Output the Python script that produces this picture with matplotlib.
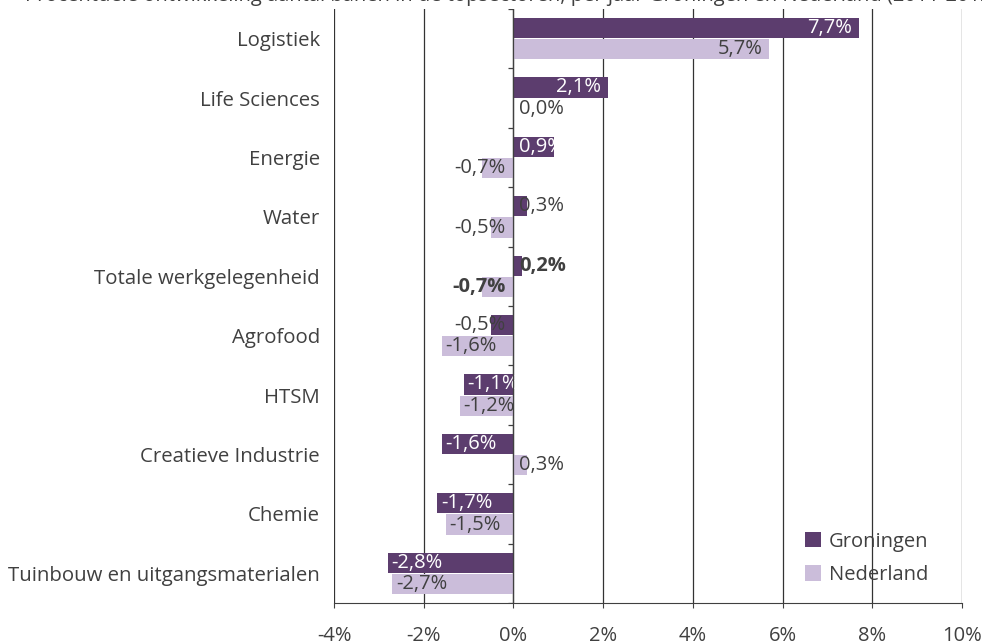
import matplotlib
matplotlib.use("Agg")
import matplotlib.pyplot as plt
import numpy as np

plt.rcParams['font.family'] = ['Open Sans', 'DejaVu Sans']

# data
sectors = ['Logistiek', 'Life Sciences', 'Energie', 'Water', 'Totale werkgelegenheid',
           'Agrofood', 'HTSM', 'Creatieve Industrie', 'Chemie',
           'Tuinbouw en uitgangsmaterialen']
groningen = [7.7, 2.1, 0.9, 0.3, 0.2, -0.5, -1.1, -1.6, -1.7, -2.8]
nederland = [5.7, 0.0, -0.7, -0.5, -0.7, -1.6, -1.2, 0.3, -1.5, -2.7]
bold_sector = 'Totale werkgelegenheid'
xticks = [-4, -2, 0, 2, 4, 6, 8, 10]
title = ('Procentuele ontwikkeling aantal banen in de topsectoren, per jaar '
         'Groningen en Nederland (2011-2012)')

C_GRO = '#5C3D6E'
C_NED = '#CBBDDA'
C_TXT = '#404040'
FS = 14.5


def fmt(v):
    return f"{v:.1f}".replace('.', ',') + '%'


def put_label(ax, y, v, color, weight):
    # Excel style "inside end", pushed out of the bar when it is too short
    if v >= 1.1:
        x, ha = v - 0.15, 'right'
    elif v >= 0:
        x, ha = 0.12, 'left'
    elif v <= -1.1:
        x, ha = v + 0.08, 'left'
    else:
        x, ha = -0.18, 'right'
    ax.text(x, y, fmt(v), ha=ha, va='center', fontsize=FS, color=color,
            fontweight=weight)


fig = plt.figure(figsize=(9.82, 6.44), dpi=100)
ax = fig.add_axes([334 / 982, 1 - 603 / 644, 628 / 982, 594 / 644])

y = np.arange(len(sectors))
h = 0.34
off = 0.18
ax.barh(y - off, groningen, height=h, color=C_GRO, label='Groningen', zorder=3)
ax.barh(y + off, nederland, height=h, color=C_NED, label='Nederland', zorder=3)

for i, s in enumerate(sectors):
    w = 'bold' if s == bold_sector else 'normal'
    g = groningen[i]
    put_label(ax, i - off, g, 'white' if abs(g) >= 0.8 else C_TXT, w)
    put_label(ax, i + off, nederland[i], C_TXT, w)

ax.set_xlim(-4, 10)
ax.set_ylim(len(sectors) - 0.5, -0.5)
ax.set_xticks(xticks)
ax.set_xticklabels([f"{t}%" for t in xticks])
ax.set_yticks(y)
ax.set_yticklabels(sectors)
ax.tick_params(axis='y', length=0, pad=10, labelsize=14.7, labelcolor=C_TXT)
ax.tick_params(axis='x', length=3.5, width=0.8, color='#404040', pad=13,
               labelsize=FS, labelcolor=C_TXT)

ax.grid(axis='x', color='#333333', linewidth=0.9, zorder=1)
for sp in ['top', 'left', 'right']:
    ax.spines[sp].set_visible(False)
ax.spines['bottom'].set_color('#404040')

# vertical category axis at zero with small boundary ticks
ax.axvline(0, color='#404040', linewidth=0.9, zorder=4)
ax.hlines(np.arange(len(sectors) + 1) - 0.5, -0.13, 0, color='#404040',
          linewidth=0.9, zorder=4)

ax.legend(loc='lower right', bbox_to_anchor=(0.975, 0.0), frameon=False,
          fontsize=FS, handlelength=0.8, handleheight=0.8, handletextpad=0.4,
          labelspacing=0.65, labelcolor=C_TXT)

fig.text(25 / 982, 1 - 0.5 / 644, title, ha='left', va='baseline', fontsize=FS,
         color=C_TXT)

fig.savefig('out.png', dpi=100)
